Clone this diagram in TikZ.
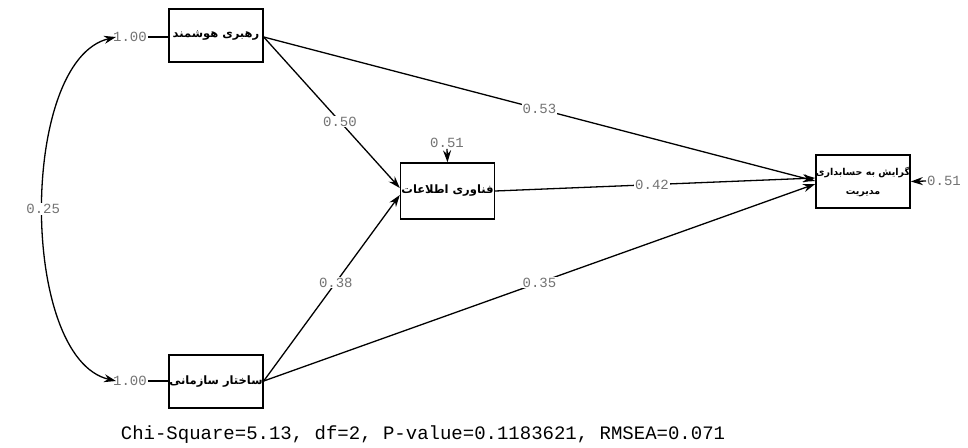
\documentclass[tikz,border=0pt]{standalone}
\usepackage{fontspec}
\setmonofont{Liberation Mono}
\newfontfamily\arabicfont[Script=Arabic]{DejaVu Sans}
\TeXXeTstate=1
\usetikzlibrary{arrows.meta}
\begin{document}
\begin{tikzpicture}[x=1pt,y=-1pt,
  box/.style={draw, line width=1.4pt, minimum width=94pt, minimum height=53pt, inner sep=0pt,
    font=\arabicfont\bfseries\fontsize{11.5}{14}\selectfont},
  lbl/.style={fill=white, inner sep=1pt, text=black!55, font=\ttfamily\fontsize{14}{14}\selectfont},
  arr/.style={line width=1.3pt, -{Stealth[length=12pt,width=8pt]}},
  both/.style={line width=1.3pt, {Stealth[length=12pt,width=8pt]}-{Stealth[length=12pt,width=8pt]}},
  plain/.style={line width=1.3pt}]
\useasboundingbox (0,0) rectangle (968,447);
\node[box] (lead) at (216,35.5) {\beginR رهبری هوشمند\endR};
\node[box] (struct) at (216,381.5) {\beginR ساختار سازمانی\endR};
\node[box, minimum height=56pt] (it) at (447.5,191) {\beginR فناوری اطلاعات\endR};
\node[box, align=center, font=\arabicfont\bfseries\fontsize{9.5}{19}\selectfont] (goal) at (863,181.5)
  {\beginR گرایش به حسابداری\endR\\\beginR مدیریت\endR};

\coordinate (leadout) at (263,37);
\coordinate (structout) at (263,381);
\coordinate (itin1) at (401,188);
\coordinate (itin2) at (401,195);
\coordinate (goalin1) at (816,181);
\coordinate (goalin2) at (816,178);
\coordinate (goalin3) at (816,184);

\draw[arr] (lead.east |- leadout) -- node[lbl, pos=0.56] {0.50} (it.west |- itin1);
\draw[arr] (lead.east |- leadout) -- node[lbl, pos=0.5] {0.53} (goal.west |- goalin1);
\draw[arr] (struct.east |- structout) -- node[lbl, pos=0.53] {0.38} (it.west |- itin2);
\draw[arr] (struct.east |- structout) -- node[lbl, pos=0.5] {0.35} (goal.west |- goalin3);
\draw[arr] (it.east) -- node[lbl, pos=0.49] {0.42} (goal.west |- goalin2);

\node[lbl] (r1) at (447,143) {0.51};
\draw[arr] (r1.south) -- (it.north);
\node[lbl, anchor=west] (r2) at (926,181) {0.51};
\draw[arr] (r2.west) -- (goal.east);

\node[lbl] (v1) at (130,37) {1.00};
\node[lbl] (v2) at (130,381) {1.00};
\draw[plain] (v1.east) -- (lead.west |- v1.east);
\draw[plain] (v2.east) -- (struct.west |- v2.east);
\coordinate (c1) at (116,37);
\coordinate (c2) at (116,381);
\draw[both] (c1) .. controls (19,60) and (19,358) .. node[lbl, pos=0.5] {0.25} (c2);

\node[font=\ttfamily\fontsize{19}{19}\selectfont] (fit) at (423,435)
  {Chi-Square=5.13, df=2, P-value=0.1183621, RMSEA=0.071};
\end{tikzpicture}
\end{document}
